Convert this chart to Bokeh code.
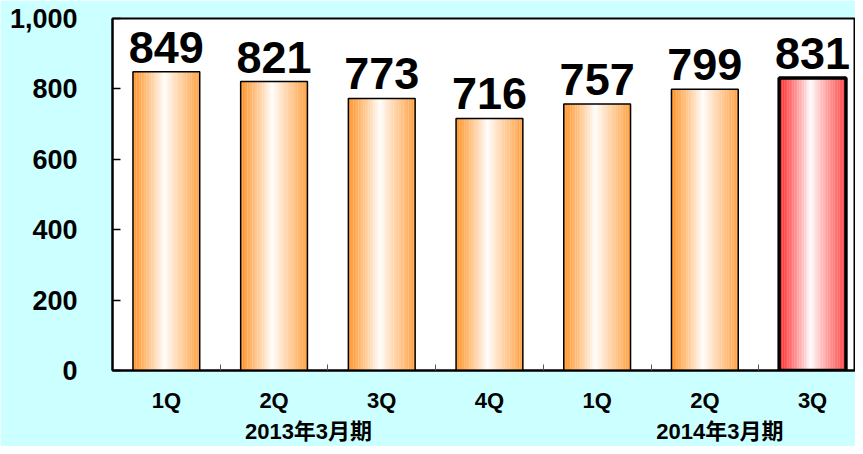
from bokeh.plotting import figure
from bokeh.models import (Range1d, FixedTicker, LinearAxis, NumeralTickFormatter,
                          ColumnDataSource)
from bokeh.core.properties import value
from bokeh.embed import file_html
from bokeh.resources import INLINE

# ---- data ----
quarters = ["1Q", "2Q", "3Q", "4Q", "1Q", "2Q", "3Q"]
sales = [849, 821, 773, 716, 757, 799, 831]
highlight = [False, False, False, False, False, False, True]
fiscal_years = ["2013年3月期", "2014年3月期"]
y_ticks = [0, 200, 400, 600, 800, 1000]

BG = "#CCFFFF"
ORANGE = (255, 153, 51)
RED = (255, 51, 51)

xs = list(range(len(sales)))
BAR_W = 0.62
N = 40

p = figure(width=855, height=446, output_backend="svg", toolbar_location=None,
           x_range=Range1d(-0.5, -0.5 + 743 / 107.7), y_range=Range1d(0, 1000),
           background_fill_color="white", border_fill_color=BG,
           min_border_left=112, min_border_right=0, min_border_top=18,
           min_border_bottom=74, x_axis_location=None, y_axis_location=None)
p.xgrid.visible = False
p.ygrid.visible = False
p.outline_line_color = "black"
p.outline_line_width = 2


def mix(base, t):
    # t: 0 -> white, 1 -> base
    r = int(round(255 + (base[0] - 255) * t))
    g = int(round(255 + (base[1] - 255) * t))
    b = int(round(255 + (base[2] - 255) * t))
    return "#%02x%02x%02x" % (r, g, b)


# gradient strips
L, R, T, C = [], [], [], []
for x, v, h in zip(xs, sales, highlight):
    base = RED if h else ORANGE
    for k in range(N):
        t = (k + 0.5) / N
        c = 0.47
        if t < c:
            inten = (c - t) / c
        else:
            inten = (t - c) / (1 - c) * 0.85
        inten = min(1.0, inten ** 0.9 * 1.05)
        L.append(x - BAR_W / 2 + k * BAR_W / N)
        R.append(x - BAR_W / 2 + (k + 1) * BAR_W / N + 0.002)
        T.append(v)
        C.append(mix(base, inten))
p.quad(left=L, right=R, top=T, bottom=0, fill_color=C, line_color=None)

src = ColumnDataSource(dict(
    x=xs, top=sales, lab=[str(v) for v in sales],
    lw=[3.5 if h else 1.5 for h in highlight]))
p.vbar(x="x", top="top", width=BAR_W, bottom=0, source=src, fill_color=None,
       line_color="black", line_width="lw")

p.text(x="x", y="top", text="lab", source=src, text_align="center",
       text_baseline="bottom", y_offset=-9, text_font=value("Liberation Sans"),
       text_font_style="bold", text_font_size="45px", text_color="black")

# y axis
ya = LinearAxis(ticker=FixedTicker(ticks=y_ticks),
                formatter=NumeralTickFormatter(format="0,0"))
ya.major_label_text_font = "Liberation Sans"
ya.major_label_text_font_style = "bold"
ya.major_label_text_font_size = "27px"
ya.major_label_text_color = "black"
ya.major_label_standoff = 35
ya.major_tick_in = 8
ya.major_tick_out = 0
ya.minor_tick_line_color = None
ya.axis_line_color = "black"
ya.axis_line_width = 2
ya.major_tick_line_width = 1.5
p.add_layout(ya, "left")

# x axis: quarter labels, plus fiscal-year labels on a second line
group_pos = [1.32, 5.14]
xa = LinearAxis(ticker=FixedTicker(ticks=xs + group_pos,
                                   minor_ticks=[x + 0.5 for x in xs[:-1]]))
overrides = {x: q for x, q in zip(xs, quarters)}
overrides.update({gx: "\n" + g for gx, g in zip(group_pos, fiscal_years)})
xa.major_label_overrides = overrides
xa.major_label_text_font = "Liberation Sans, Noto Sans CJK JP"
xa.major_label_text_font_style = "bold"
xa.major_label_text_font_size = "22px"
xa.major_label_text_color = "black"
xa.major_label_text_line_height = 1.25
xa.major_label_standoff = 17
xa.major_tick_in = 0
xa.major_tick_out = 0
xa.minor_tick_in = 6
xa.minor_tick_out = 0
xa.minor_tick_line_color = "#555555"
xa.axis_line_color = "black"
xa.axis_line_width = 2
p.add_layout(xa, "below")

open("out.html", "w").write(file_html(p, INLINE))
